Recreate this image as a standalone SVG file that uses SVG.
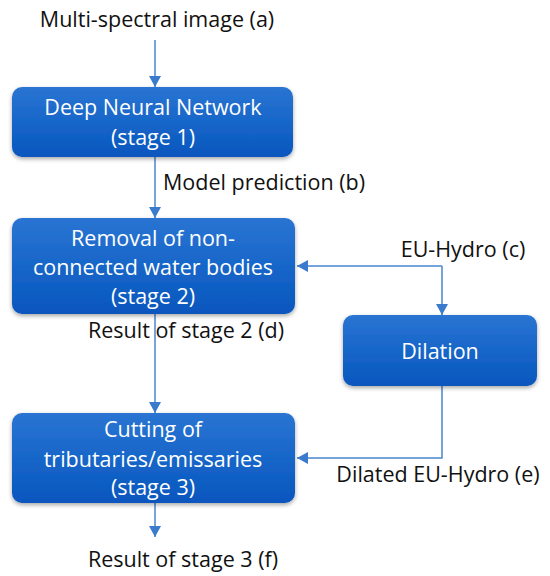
<svg xmlns="http://www.w3.org/2000/svg" width="550" height="576" viewBox="0 0 550 576">
<defs>
<linearGradient id="g" x1="0" y1="0" x2="0" y2="1">
<stop offset="0" stop-color="#2a74d2"/>
<stop offset="0.5" stop-color="#1766c9"/>
<stop offset="1" stop-color="#0756be"/>
</linearGradient>
<filter id="sh" x="-10%" y="-10%" width="120%" height="130%">
<feDropShadow dx="0" dy="2" stdDeviation="2" flood-color="#000" flood-opacity="0.35"/>
</filter>
<marker id="ah" markerWidth="12" markerHeight="12" refX="11" refY="6" orient="auto" markerUnits="userSpaceOnUse">
<path d="M0,0 L11,6 L0,12 Z" fill="#3a7bcc"/>
</marker>
</defs>
<style>
.box{fill:url(#g);filter:url(#sh)}
.bt{font-family:"Open Sans","Liberation Sans",sans-serif;font-size:21.5px;fill:#fff;text-anchor:middle}
.lt{font-family:"Open Sans","Liberation Sans",sans-serif;font-size:21.5px;fill:#111}
.c{fill:none;stroke:#4a86d0;stroke-width:1.5;marker-end:url(#ah)}
</style>
<g id="connectors">
<line class="c" x1="155" y1="40" x2="155" y2="87"/>
<line class="c" x1="155" y1="157" x2="155" y2="218"/>
<line class="c" x1="155" y1="314" x2="155" y2="413"/>
<line class="c" x1="155" y1="503" x2="155" y2="537"/>
<path class="c" d="M442,266 L297,266"/>
<path class="c" d="M442,266 L442,315"/>
<path class="c" d="M442,386 L442,458 L297,458"/>
</g>
<g id="labels">
<text class="lt" x="157" y="27" text-anchor="middle">Multi-spectral image (a)</text>
<text class="lt" x="163" y="190">Model prediction (b)</text>
<text class="lt" x="186" y="338" text-anchor="middle">Result of stage 2 (d)</text>
<text class="lt" x="463" y="257" text-anchor="middle">EU-Hydro (c)</text>
<text class="lt" x="438" y="482" text-anchor="middle">Dilated EU-Hydro (e)</text>
<text class="lt" x="183" y="567" text-anchor="middle">Result of stage 3 (f)</text>
</g>
<g id="stage1">
<rect class="box" x="12" y="87" width="281" height="70" rx="10"/>
<text class="bt" x="153" y="115">Deep Neural Network</text>
<text class="bt" x="153" y="145">(stage 1)</text>
</g>
<g id="stage2">
<rect class="box" x="12" y="218" width="283" height="96" rx="10"/>
<text class="bt" x="153" y="246">Removal of non-</text>
<text class="bt" x="153" y="275">connected water bodies</text>
<text class="bt" x="153" y="304">(stage 2)</text>
</g>
<g id="dilation">
<rect class="box" x="343" y="315" width="194" height="71" rx="10"/>
<text class="bt" x="440" y="359">Dilation</text>
</g>
<g id="stage3">
<rect class="box" x="12" y="413" width="283" height="90" rx="10"/>
<text class="bt" x="153" y="437">Cutting of</text>
<text class="bt" x="153" y="467">tributaries/emissaries</text>
<text class="bt" x="153" y="495">(stage 3)</text>
</g>
</svg>
